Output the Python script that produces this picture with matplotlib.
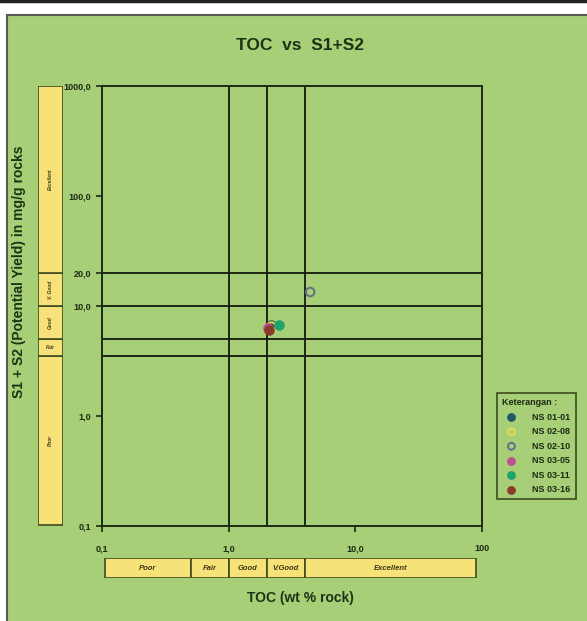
import matplotlib
matplotlib.use("Agg")
import matplotlib.pyplot as plt
from matplotlib.patches import Rectangle
from matplotlib.lines import Line2D

plt.rcParams['font.family'] = ['Liberation Sans Narrow', 'Liberation Sans', 'DejaVu Sans']

# samples: TOC (wt %) and S1+S2 (mg/g rock)
samples = ["NS 01-01", "NS 02-08", "NS 02-10", "NS 03-05", "NS 03-11", "NS 03-16"]
toc = [2.15, 2.17, 4.40, 2.05, 2.50, 2.07]
s1s2 = [6.7, 6.5, 13.4, 6.3, 6.7, 6.1]
face = ["#1f5a66", "none", "none", "#c04f8f", "#1fa36c", "#8a3b2a"]
edge = ["#1f5a66", "#e8d84a", "#5f6f86", "#c04f8f", "#1fa36c", "#8a3b2a"]

# source rock classes
toc_bounds = [0.5, 1, 2, 4]
toc_classes = ["Poor", "Fair", "Good", "V.Good", "Excellent"]
toc_bar = [0.106, 90]
yield_bounds = [3.5, 5, 10, 20]
yield_classes = ["Poor", "Fair", "Good", "V. Good", "Excellent"]
yield_bar = [0.103, 1000]

x_ticks = [0.1, 1, 10, 100]
x_labels = ["0,1", "1,0", "10,0", "100"]
y_ticks = [0.1, 1, 10, 20, 100, 1000]
y_labels = ["0,1", "1,0", "10,0", "20,0", "100,0", "1000,0"]

W, H = 587, 621
bg = "#a7cf78"
ink = "#1c2a12"
bar_col = "#f7e27a"

fig = plt.figure(figsize=(W / 100, H / 100), dpi=100)
fig.patch.set_facecolor("white")

def box(x0, y0, x1, y1):
    # pixel box (top-left origin) -> figure fraction rect
    return [x0 / W, 1 - y1 / H, (x1 - x0) / W, (y1 - y0) / H]

# green panel behind everything
fig.add_artist(Rectangle((7 / W, -0.01), 1, 1.01 - 15 / H, transform=fig.transFigure,
                         facecolor=bg, edgecolor="#555a50", lw=1.5, zorder=-10))
fig.add_artist(Line2D([0, 1], [1 - 1 / H, 1 - 1 / H], transform=fig.transFigure,
                      color="#222222", lw=2.5))

ax = fig.add_axes(box(102, 86, 482, 526))
ax.set_facecolor("none")
ax.set_xscale("log")
ax.set_yscale("log")
ax.set_xlim(0.1, 100)
ax.set_ylim(0.1, 1000)
ax.minorticks_off()
ax.set_xticks(x_ticks)
ax.set_xticklabels(x_labels)
ax.set_yticks(y_ticks)
ax.set_yticklabels(y_labels)
ax.tick_params(direction="out", length=4, width=1.2, color=ink, labelsize=6.5,
               labelcolor=ink, pad=4)
ax.tick_params(axis="x", pad=9)
for lab in ax.get_xticklabels() + ax.get_yticklabels():
    lab.set_fontweight("bold")
for sp in ax.spines.values():
    sp.set_color(ink)
    sp.set_linewidth(1.4)

for b in toc_bounds[1:]:
    ax.axvline(b, color="#111a0c", lw=1.3, zorder=1)
for b in yield_bounds:
    ax.axhline(b, color="#111a0c", lw=1.3, zorder=1)

for i in range(len(samples)):
    ax.scatter(toc[i], s1s2[i], s=38, facecolors=face[i], edgecolors=edge[i],
               linewidths=1.4, zorder=3, label=samples[i])

# TOC class bar under the plot
axb = fig.add_axes(box(102, 558, 482, 578))
axb.set_xscale("log")
axb.set_xlim(0.1, 100)
axb.set_ylim(0, 1)
axb.axis("off")
edges_x = [toc_bar[0]] + toc_bounds + [toc_bar[1]]
for i, name in enumerate(toc_classes):
    axb.add_patch(Rectangle((edges_x[i], 0), edges_x[i + 1] - edges_x[i], 1,
                            facecolor=bar_col, edgecolor="#3d4a1c", lw=1.2))
    xm = (edges_x[i] * edges_x[i + 1]) ** 0.5
    axb.text(xm, 0.5, name, ha="center", va="center", fontsize=5.5,
             fontstyle="italic", fontweight="bold", color="#3a3a10")

# S1+S2 class bar on the left
axl = fig.add_axes(box(38, 86, 63, 526))
axl.set_yscale("log")
axl.set_ylim(0.1, 1000)
axl.set_xlim(0, 1)
axl.axis("off")
edges_y = [yield_bar[0]] + yield_bounds + [yield_bar[1]]
for i, name in enumerate(yield_classes):
    axl.add_patch(Rectangle((0, edges_y[i]), 1, edges_y[i + 1] - edges_y[i],
                            facecolor=bar_col, edgecolor="#3d4a1c", lw=1.2))
    ym = (edges_y[i] * edges_y[i + 1]) ** 0.5
    rot = 0 if name == "Fair" else 90
    axl.text(0.5, ym, name, ha="center", va="center", fontsize=3.5, rotation=rot,
             fontstyle="italic", fontweight="bold", color="#3a3a10")

fig.text(300 / W, 1 - 45 / H, "TOC  vs  S1+S2", ha="center", va="center",
         fontsize=12.5, fontweight="bold", color="#1b3414")
fig.text(300 / W, 1 - 598 / H, "TOC (wt % rock)", ha="center", va="center",
         fontsize=10, fontweight="bold", color="#1b3414")
fig.text(19 / W, 1 - 272 / H, "S1 + S2 (Potential Yield) in mg/g rocks", ha="center",
         va="center", rotation=90, fontsize=10, fontweight="bold", color="#1b3414")

leg = ax.legend(loc="upper left", bbox_to_anchor=(497 / W, 1 - 393 / H),
                bbox_transform=fig.transFigure, title="Keterangan :",
                fontsize=6.5, title_fontsize=6.5, frameon=True, borderpad=0.6,
                labelspacing=0.6, handletextpad=1.3, markerscale=0.8,
                borderaxespad=0, fancybox=False, alignment="left")
leg.get_frame().set_facecolor(bg)
leg.get_frame().set_alpha(1)
leg.get_frame().set_edgecolor("#3d4a1c")
leg.get_frame().set_linewidth(1.2)
leg.get_title().set_fontweight("bold")
leg.get_title().set_color(ink)
for t in leg.get_texts():
    t.set_fontweight("bold")
    t.set_color(ink)

fig.savefig("out.png", dpi=100, facecolor=fig.get_facecolor())
